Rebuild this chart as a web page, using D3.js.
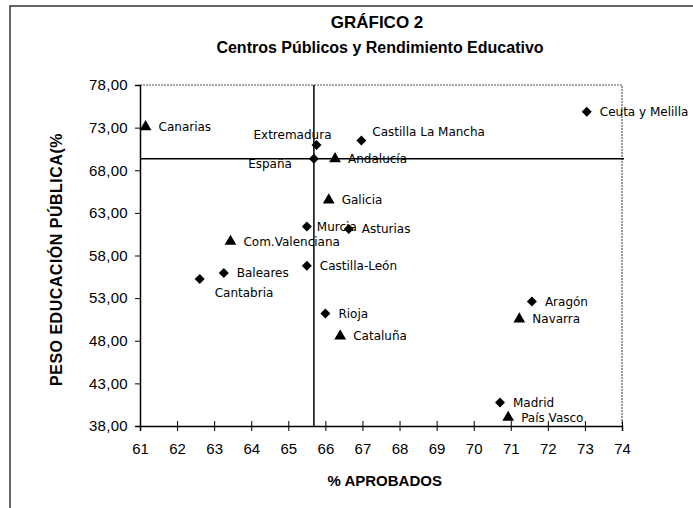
<!DOCTYPE html>
<html>
<head>
<meta charset="utf-8">
<script src="https://cdn.jsdelivr.net/npm/d3@7"></script>
<style>
  body { margin: 0; background: #fff; }
  svg { display: block; }
</style>
</head>
<body>
<div id="chart"></div>
<script>
// data
const regions = ["Canarias", "Extremadura", "España", "Andalucía", "Castilla La Mancha",
    "Ceuta y Melilla", "Galicia", "Murcia", "Asturias", "Com.Valenciana", "Castilla-León",
    "Baleares", "Cantabria", "Rioja", "Cataluña", "Aragón", "Navarra", "Madrid", "País Vasco"];
const aprobados = [61.15, 65.76, 65.69, 66.26, 66.97, 73.05, 66.09, 65.5, 66.63, 63.44, 65.5,
    63.26, 62.61, 66.0, 66.4, 71.57, 71.23, 70.71, 70.93];
const pesoPublica = [73.1, 70.95, 69.35, 69.35, 71.5, 74.85, 64.5, 61.4, 61.1, 59.65, 56.8,
    55.95, 55.25, 51.2, 48.55, 52.6, 50.55, 40.75, 39.0];
const markers = ["triangle", "diamond", "diamond", "triangle", "diamond", "diamond", "triangle",
    "diamond", "diamond", "triangle", "diamond", "diamond", "diamond", "diamond", "triangle",
    "diamond", "triangle", "diamond", "triangle"];
const xTicks = [61, 62, 63, 64, 65, 66, 67, 68, 69, 70, 71, 72, 73, 74];
const yTicks = [38, 43, 48, 53, 58, 63, 68, 73, 78];

// label placement (offset from the marker, px)
const labelOffset = {
    "Extremadura": [-24, -10, "middle"],
    "España": [-22, 5, "end"],
    "Castilla La Mancha": [11, -9, "start"],
    "Cantabria": [15, 14, "start"],
    "Murcia": [10, 0, "start"]
};

const width = 693, height = 508;
const margin = { top: 85, right: 71, bottom: 82, left: 140 };

const svg = d3.select("#chart").append("svg")
    .attr("width", width)
    .attr("height", height);

// outer frame of the scanned page
svg.append("path")
    .attr("d", `M10,${height} L10,6 L${width},6`)
    .attr("fill", "none")
    .attr("stroke", "#333")
    .attr("stroke-width", 1.5);

const x = d3.scaleLinear().domain([61, 74]).range([margin.left, width - margin.right]);
const y = d3.scaleLinear().domain([38, 78]).range([height - margin.bottom, margin.top]);

// titles
svg.append("text")
    .attr("x", 377).attr("y", 28)
    .attr("text-anchor", "middle")
    .style("font-family", "Liberation Sans, Arial, sans-serif")
    .style("font-weight", "bold")
    .style("font-size", "17px")
    .text("GRÁFICO 2");
svg.append("text")
    .attr("x", 380).attr("y", 53)
    .attr("text-anchor", "middle")
    .style("font-family", "Liberation Sans, Arial, sans-serif")
    .style("font-weight", "bold")
    .style("font-size", "16px")
    .text("Centros Públicos y Rendimiento Educativo");

// plot box: dotted top and right edges
svg.append("path")
    .attr("d", `M${x(61)},${y(78)} L${x(74)},${y(78)} L${x(74)},${y(38)}`)
    .attr("fill", "none")
    .attr("stroke", "#555")
    .attr("stroke-width", 1.2)
    .attr("stroke-dasharray", "2,1");

// axes
const fmt = d => d3.format(".2f")(d).replace(".", ",");
const yAxis = svg.append("g")
    .attr("transform", `translate(${x(61)},0)`)
    .call(d3.axisLeft(y).tickValues(yTicks).tickFormat(fmt).tickSize(5).tickPadding(7));
yAxis.selectAll("text")
    .style("font-family", "Liberation Sans, Arial, sans-serif")
    .style("font-size", "15px")
    .style("letter-spacing", "0.3px")
    .style("fill", "#000");

const xAxis = svg.append("g")
    .attr("transform", `translate(0,${y(38)})`)
    .call(d3.axisBottom(x).tickValues(xTicks).tickFormat(d3.format("d")).tickSize(5).tickPadding(12));
xAxis.selectAll("text")
    .style("font-family", "Liberation Sans, Arial, sans-serif")
    .style("font-size", "15px")
    .style("fill", "#000");
xAxis.selectAll(".tick line").attr("y1", -5);
svg.selectAll(".domain").attr("stroke", "#000").attr("stroke-width", 1.5);
svg.selectAll(".tick line").attr("stroke", "#000");

// axis titles
svg.append("text")
    .attr("x", x(67.6)).attr("y", 486)
    .attr("text-anchor", "middle")
    .style("font-family", "Liberation Sans, Arial, sans-serif")
    .style("font-weight", "bold")
    .style("font-size", "15px")
    .text("% APROBADOS");
svg.append("text")
    .attr("transform", `translate(62,${(y(38) + y(78)) / 2 + 4}) rotate(-90)`)
    .attr("text-anchor", "middle")
    .style("font-family", "Liberation Sans, Arial, sans-serif")
    .style("font-weight", "bold")
    .style("font-size", "16px")
    .style("letter-spacing", "0.5px")
    .text("PESO EDUCACIÓN PÚBLICA(%");

// reference lines through España
const iEsp = regions.indexOf("España");
svg.append("line")
    .attr("x1", x(aprobados[iEsp])).attr("x2", x(aprobados[iEsp]))
    .attr("y1", y(78)).attr("y2", y(38))
    .attr("stroke", "#000").attr("stroke-width", 1.5);
svg.append("line")
    .attr("x1", x(61)).attr("x2", x(74) + 2)
    .attr("y1", y(pesoPublica[iEsp])).attr("y2", y(pesoPublica[iEsp]))
    .attr("stroke", "#000").attr("stroke-width", 1.5);

// points
const points = regions.map((r, i) => ({ name: r, x: aprobados[i], y: pesoPublica[i], m: markers[i] }));
const diamond = d3.symbol().type(d3.symbolSquare).size(50);
const triangle = d3.symbol().type(d3.symbolTriangle).size(60);

svg.append("g")
    .selectAll("path")
    .data(points)
    .enter()
    .append("path")
    .attr("d", d => d.m === "diamond" ? diamond() : triangle())
    .attr("transform", d => `translate(${x(d.x)},${y(d.y)})` + (d.m === "diamond" ? " rotate(45)" : ""))
    .attr("fill", "#000");

svg.append("g")
    .selectAll("text")
    .data(points)
    .enter()
    .append("text")
    .attr("x", d => x(d.x) + (labelOffset[d.name] ? labelOffset[d.name][0] : 13))
    .attr("y", d => y(d.y) + (labelOffset[d.name] ? labelOffset[d.name][1] : 0))
    .attr("dy", "0.35em")
    .attr("text-anchor", d => labelOffset[d.name] ? labelOffset[d.name][2] : "start")
    .style("font-family", "DejaVu Sans, sans-serif")
    .style("font-size", "12px")
    .style("fill", "#000")
    .text(d => d.name);
</script>
</body>
</html>
